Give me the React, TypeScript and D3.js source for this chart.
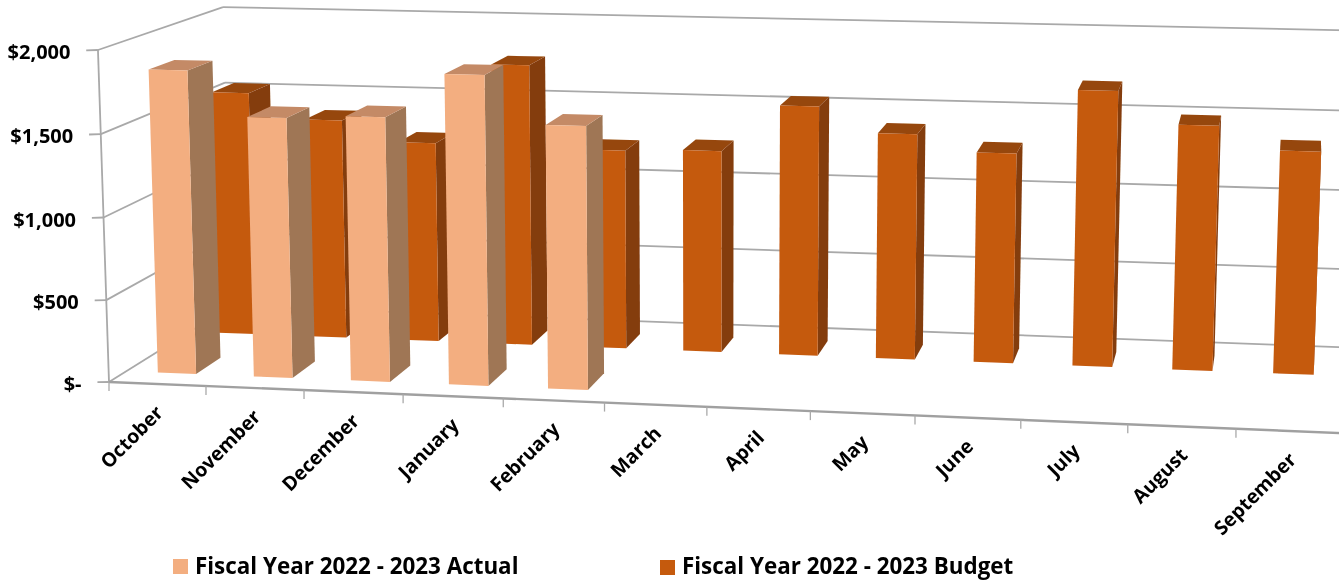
import React from "react";
import * as d3 from "d3";

const months = ["October","November","December","January","February","March","April","May","June","July","August","September"];
const actualValues: (number | null)[] = [1850,1580,1600,1866,1580,null,null,null,null,null,null,null];
const budgetValues: number[] = [1554,1395,1267,1773,1254,1268,1561,1406,1304,1702,1506,1366];
const valueTicks = [0,500,1000,1500,2000];
const valueTickLabels = ["$-","$500","$1,000","$1,500","$2,000"];
const seriesNames = ["Fiscal Year 2022 - 2023 Actual","Fiscal Year 2022 - 2023 Budget"];

const FONT = "'Open Sans', sans-serif";
const GRID = "#a9a9a9";

const catScale = d3.scaleBand<string>().domain(months).range([0, 12]);
const valScale = d3.scaleLinear().domain([0, 2000]).range([0, 1]);

// perspective projection of (category position, value fraction, depth fraction)
function project(u: number, v: number, d: number): [number, number] {
  const w = 1 - 0.0053 * u + 0.113 * d - 0.018 * v;
  const x = (109 + 95.9 * u + 148 * d - 12.8 * v) / w;
  const y = (382 + 1.98 * u - 41.4 * d - 332.9 * v) / w;
  return [x, y];
}
const poly = d3.line();
const seg = (a: [number, number], b: [number, number]) => poly([a, b]) as string;
const face = (pts: [number, number][]) => (poly(pts) as string) + "Z";

type Style = { front: string; side: string; top: string; d0: number; d1: number; offset: number };
const actualStyle: Style = { front: "#f3ae80", side: "#9f7655", top: "#c48a66", d0: 0.13, d1: 0.33, offset: 0.33 };
const budgetStyle: Style = { front: "#c55a11", side: "#843c0c", top: "#96470c", d0: 0.64, d1: 0.83, offset: 0.315 };

function Bar({ month, value, s }: { month: string; value: number; s: Style }) {
  const bw = catScale.bandwidth();
  const u0 = (catScale(month) as number) + s.offset * bw;
  const u1 = u0 + 0.4 * bw;
  const t = valScale(value);
  return (
    <g>
      <path d={face([project(u1, 0, s.d0), project(u1, 0, s.d1), project(u1, t, s.d1), project(u1, t, s.d0)])} fill={s.side} />
      <path d={face([project(u0, t, s.d0), project(u1, t, s.d0), project(u1, t, s.d1), project(u0, t, s.d1)])} fill={s.top} />
      <path d={face([project(u0, 0, s.d0), project(u1, 0, s.d0), project(u1, t, s.d0), project(u0, t, s.d0)])} fill={s.front} />
    </g>
  );
}

export default function App() {
  return (
    <svg width={1339} height={582} style={{ position: "absolute", left: 0, top: 0, background: "#fff" }} fontFamily={FONT}>
      <defs>
        <filter id="soft" x="-2%" y="-2%" width="104%" height="104%">
          <feGaussianBlur stdDeviation={0.45} />
        </filter>
      </defs>
      <g filter="url(#soft)">
        {/* back wall + side wall gridlines */}
        {valueTicks.map((t) => {
          const v = valScale(t);
          return (
            <g key={t} fill="none" stroke={GRID} strokeWidth={1.8}>
              <path d={seg(project(0, v, 0), project(0, v, 1))} />
              <path d={seg(project(0, v, 1), project(13, v, 1))} />
              <path d={seg(project(0, v, 0), project(-0.12, v - 0.002, 0))} />
            </g>
          );
        })}
        <path d={seg(project(0, 0, 0), project(0, 1, 0))} stroke={GRID} strokeWidth={1.8} fill="none" />
        <path d={seg(project(0, 0, 0), project(13, 0, 0))} stroke="#a0a0a0" strokeWidth={2.4} fill="none" />
        {d3.range(0, 13).map((i) => {
          const [x, y] = project(i, 0, 0);
          return <path key={i} d={`M${x},${y}V${y + 9}`} stroke={GRID} strokeWidth={1.3} fill="none" />;
        })}
        {/* bars */}
        {months.map((m, i) => <Bar key={m} month={m} value={budgetValues[i]} s={budgetStyle} />)}
        {months.map((m, i) => actualValues[i] == null ? null : <Bar key={m} month={m} value={actualValues[i] as number} s={actualStyle} />)}
        {/* value labels */}
        {valueTicks.map((t, i) => {
          const [x, y] = project(0, valScale(t), 0);
          return (
            <text key={t} x={x - 27.5} y={y + 9} textAnchor="end" fontWeight={700} fontSize={20} fill="#000">
              {valueTickLabels[i]}
            </text>
          );
        })}
        {/* category labels */}
        {months.map((m) => {
          const [x, y] = project((catScale(m) as number) + 0.5 * catScale.bandwidth(), 0, 0);
          return (
            <text key={m} transform={`translate(${x + 7},${y + 30}) rotate(-45)`} textAnchor="end" fontWeight={700} fontSize={19.5} fill="#000">
              {m}
            </text>
          );
        })}
        {/* legend */}
        <rect x={173} y={559} width={15} height={15} fill={actualStyle.front} />
        <text x={195} y={574} fontWeight={700} fontSize={22.4} fill="#000">{seriesNames[0]}</text>
        <rect x={660} y={560} width={15} height={15} fill={budgetStyle.front} />
        <text x={682} y={574} fontWeight={700} fontSize={22.4} fill="#000">{seriesNames[1]}</text>
      </g>
    </svg>
  );
}
